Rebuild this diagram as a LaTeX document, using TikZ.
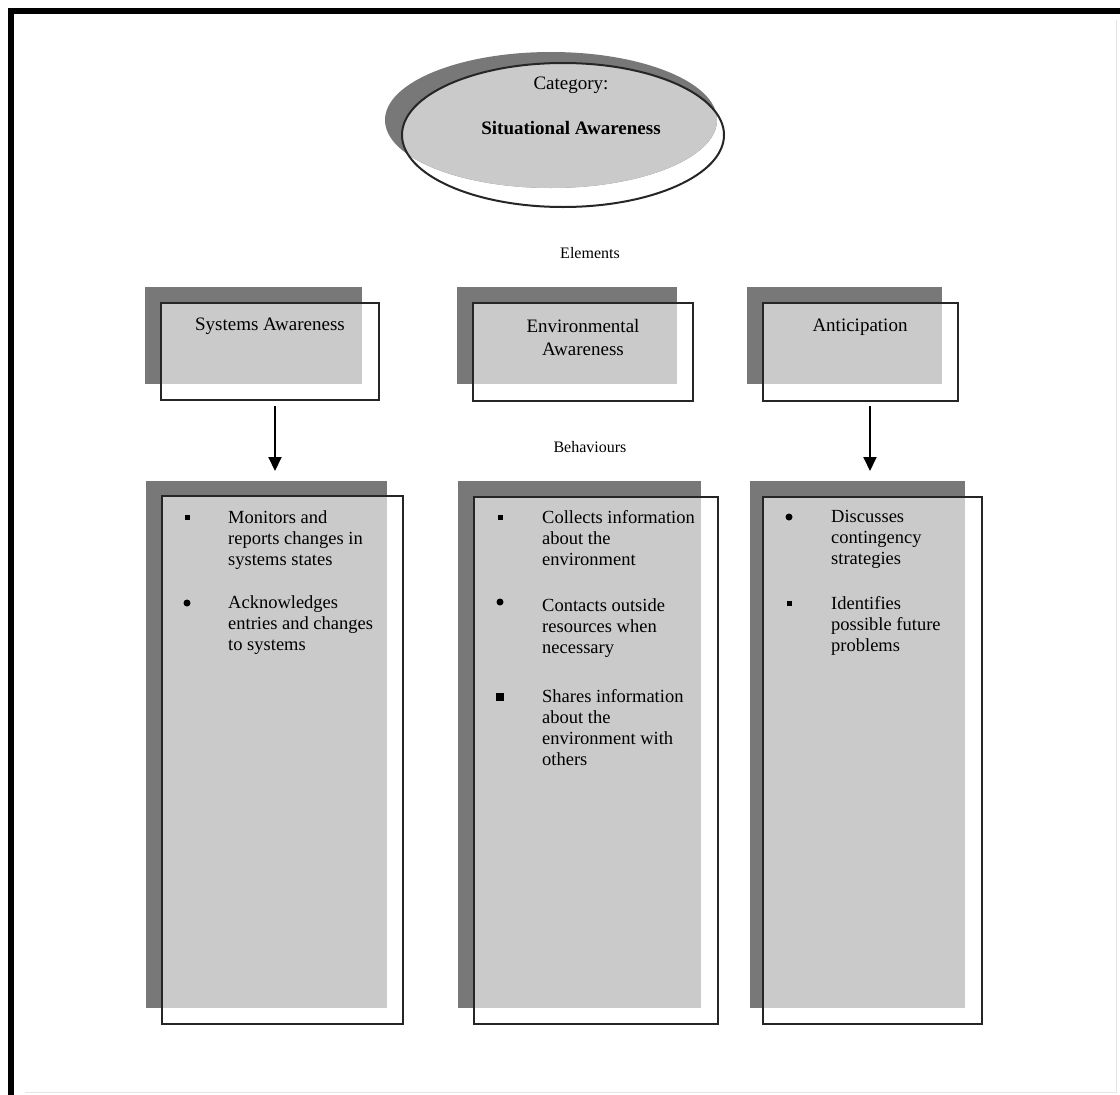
\documentclass[tikz,border=0pt]{standalone}
\usepackage{fontspec}
\setmainfont{Liberation Serif}
\usetikzlibrary{arrows.meta,shapes.geometric}
\definecolor{shadowgray}{RGB}{120,120,120}
\definecolor{fillgray}{RGB}{202,202,202}
\begin{document}
\begin{tikzpicture}[x=1pt,y=-1pt,
 shadowfill/.style={fill=shadowgray,draw=none},
 lightpart/.style={fill=fillgray,draw=none},
 outline/.style={draw=black!85,line width=2pt,fill=none,inner sep=0pt},
 lbl/.style={font=\fontsize{19}{23}\selectfont, inner sep=0pt, align=center},
 headlbl/.style={font=\fontsize{16}{19}\selectfont, inner sep=0pt},
 bitem/.style={font=\fontsize{18.5}{21}\selectfont, inner sep=0pt, anchor=north west, align=left},
 bsq/.style={rectangle, fill=black, minimum size=5pt, inner sep=0pt},
 bdot/.style={circle, fill=black, minimum size=7pt, inner sep=0pt},
 bbigsq/.style={rectangle, fill=black, minimum size=8pt, inner sep=0pt},
 arr/.style={line width=2pt, -{Triangle[length=14pt,width=13pt]}},
]
\useasboundingbox (0,0) rectangle (1120,1095);
\fill[white] (0,0) rectangle (1120,1095);

% outer frame
\draw[line width=6pt] (1120,10.5) -- (10.5,10.5) -- (10.5,1095);
\draw[gray!20, line width=1pt] (25,1092.5) -- (1116,1092.5) -- (1116,20);

% category ellipse
\fill[shadowfill] (551,120) ellipse [x radius=166pt, y radius=68pt];
\begin{scope}
  \clip (563,135) ellipse [x radius=161pt, y radius=72pt];
  \fill[lightpart] (551,120) ellipse [x radius=166pt, y radius=68pt];
\end{scope}
\node[outline, ellipse, minimum width=322pt, minimum height=144pt] (cat) at (563,135) {};
\node[font=\fontsize{19}{22}\selectfont, inner sep=0pt] (catlbl) at (571,85) {Category:};
\node[font=\bfseries\fontsize{19}{22}\selectfont, inner sep=0pt] (catname) at (571,128) {Situational Awareness};

\node[headlbl] (elements) at (590,253) {Elements};
\node[headlbl] (behaviours) at (590,447) {Behaviours};

% element boxes
\fill[shadowfill] (145,287) rectangle (362,384);
\fill[lightpart] (161,303) rectangle (362,384);
\node[outline, minimum width=218pt, minimum height=97pt] (sa) at (270,351.5) {};
\node[lbl] (salbl) at (270,326) {Systems Awareness};

\fill[shadowfill] (457,287) rectangle (677,384);
\fill[lightpart] (473,303) rectangle (677,384);
\node[outline, minimum width=220pt, minimum height=98pt] (ea) at (583,352) {};
\node[lbl] (ealbl) at (583,337) {Environmental\\Awareness};

\fill[shadowfill] (747,287) rectangle (942,384);
\fill[lightpart] (763,303) rectangle (942,384);
\node[outline, minimum width=195pt, minimum height=98pt] (an) at (860.5,352) {};
\node[lbl] (anlbl) at (860,327) {Anticipation};

% behaviour boxes
\fill[shadowfill] (146,481) rectangle (387,1008);
\fill[lightpart] (162,496) rectangle (387,1008);
\node[outline, minimum width=241pt, minimum height=528pt] (b1) at (282.5,760) {};

\fill[shadowfill] (458,481) rectangle (701,1008);
\fill[lightpart] (474,497) rectangle (701,1008);
\node[outline, minimum width=244pt, minimum height=527pt] (b2) at (596,760.5) {};

\fill[shadowfill] (750,481) rectangle (965,1008);
\fill[lightpart] (763,497) rectangle (965,1008);
\node[outline, minimum width=219pt, minimum height=527pt] (b3) at (872.5,760.5) {};

% arrows
\coordinate (a1s) at (275,406);
\coordinate (a1e) at (275,471);
\coordinate (a3s) at (870,406);
\coordinate (a3e) at (870,471);
\draw[arr] (a1s) -- (a1e);
\draw[arr] (a3s) -- (a3e);

% box 1 items
\node[bsq] (b1d1) at (187,517) {};
\node[bitem] (b1i1) at (228,510) {Monitors and\\reports changes in\\systems states};
\node[bdot] (b1d2) at (187,603) {};
\node[bitem] (b1i2) at (228,595) {Acknowledges\\entries and changes\\to systems};

% box 2 items
\node[bsq] (b2d1) at (500,517) {};
\node[bitem] (b2i1) at (542,510) {Collects information\\about the\\environment};
\node[bdot] (b2d2) at (500,602) {};
\node[bitem] (b2i2) at (542,598) {Contacts outside\\resources when\\necessary};
\node[bbigsq] (b2d3) at (500,697) {};
\node[bitem] (b2i3) at (542,689) {Shares information\\about the\\environment with\\others};

% box 3 items
\node[bdot] (b3d1) at (789,517) {};
\node[bitem] (b3i1) at (831,510) {Discusses\\contingency\\strategies};
\node[bsq] (b3d2) at (789,603) {};
\node[bitem] (b3i2) at (831,596) {Identifies\\possible future\\problems};
\end{tikzpicture}
\end{document}
